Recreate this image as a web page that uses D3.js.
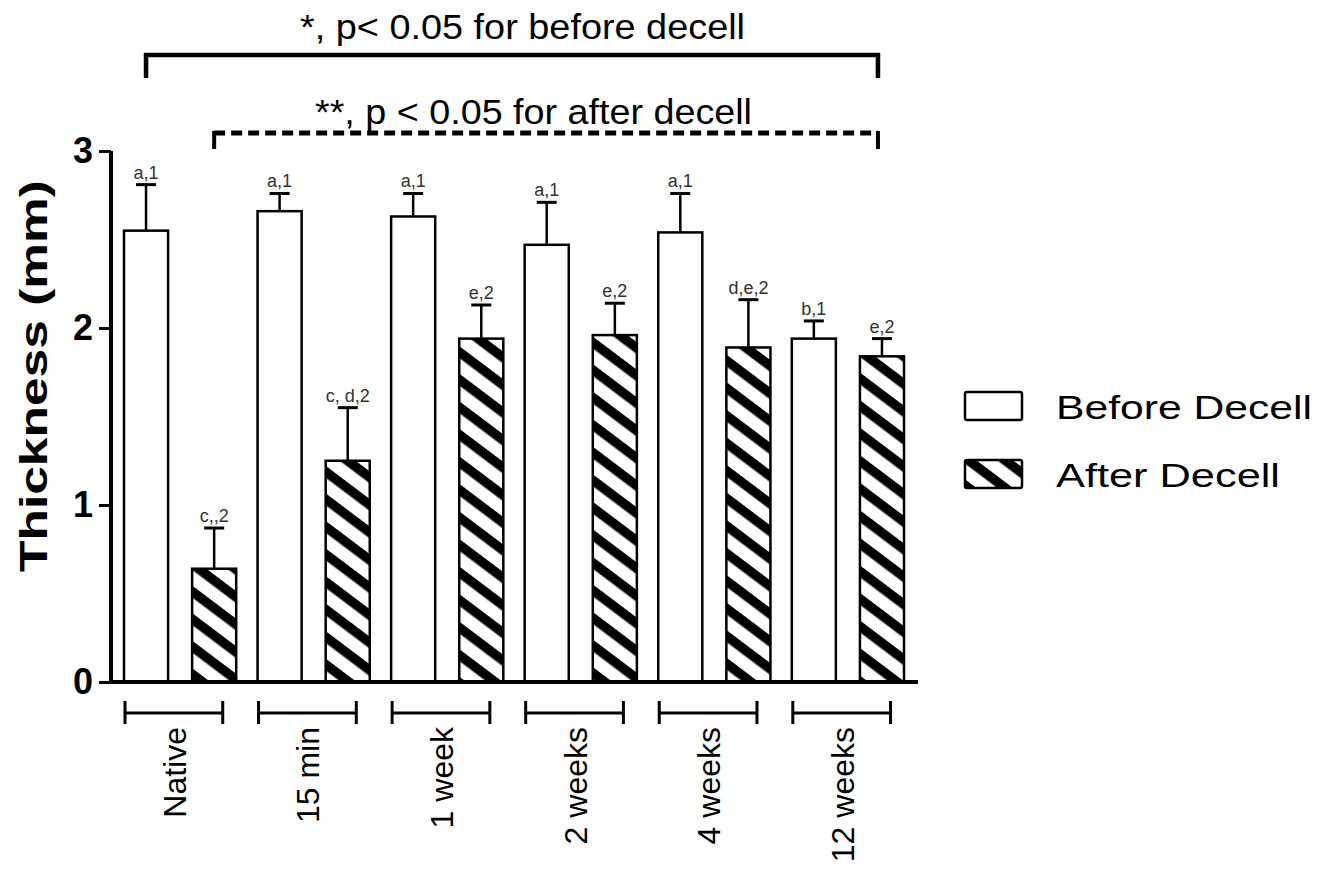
<!DOCTYPE html>
<html>
<head>
<meta charset="utf-8">
<script src="https://cdn.jsdelivr.net/npm/d3@7"></script>
<style>
  body { margin: 0; background: #fff; }
  svg { display: block; font-family: "Liberation Sans", Arial, sans-serif; }
</style>
</head>
<body>
<svg id="chart" width="1318" height="871"></svg>
<script>
var categories = ["Native", "15 min", "1 week", "2 weeks", "4 weeks", "12 weeks"];
var series = ["Before Decell", "After Decell"];
var before = [2.55, 2.66, 2.63, 2.47, 2.54, 1.94];
var beforeErr = [0.26, 0.10, 0.13, 0.24, 0.22, 0.10];
var after = [0.64, 1.25, 1.94, 1.96, 1.89, 1.84];
var afterErr = [0.23, 0.30, 0.19, 0.18, 0.27, 0.10];
var beforeLabels = ["a,1", "a,1", "a,1", "a,1", "a,1", "b,1"];
var afterLabels = ["c,,2", "c, d,2", "e,2", "e,2", "d,e,2", "e,2"];
var yTicks = [0, 1, 2, 3];

var svg = d3.select("#chart");
svg.append("rect").attr("width", 1318).attr("height", 871).attr("fill", "#fff");

// hatch pattern for after decell
var defs = svg.append("defs");
var pat = defs.append("pattern").attr("id", "hatch")
	.attr("patternUnits", "userSpaceOnUse")
	.attr("width", 22).attr("height", 22)
	.attr("patternTransform", "rotate(37)");
pat.append("rect").attr("width", 22).attr("height", 22).attr("fill", "#fff");
pat.append("rect").attr("width", 22).attr("height", 9.5).attr("fill", "#000");

var y = d3.scaleLinear().domain([0, 3]).range([682, 151]);
var x0 = d3.scaleBand().domain(categories).range([124, 904]).paddingInner(0.16).paddingOuter(0);
var x1 = d3.scaleBand().domain(series).range([0, x0.bandwidth()]).paddingInner(0.353);

var rows = categories.map(function(c, i) {
	return [
		{cat: c, s: series[0], v: before[i], e: beforeErr[i], lab: beforeLabels[i]},
		{cat: c, s: series[1], v: after[i], e: afterErr[i], lab: afterLabels[i]}
	];
});
var flat = [].concat.apply([], rows);

// bars
var bars = svg.append("g");
flat.forEach(function(d) {
	var bx = x0(d.cat) + x1(d.s);
	var cx = bx + x1.bandwidth() / 2;
	bars.append("line").attr("x1", cx).attr("x2", cx).attr("y1", y(d.v)).attr("y2", y(d.v + d.e))
		.attr("stroke", "#000").attr("stroke-width", 2.5);
	bars.append("line").attr("x1", cx - 10).attr("x2", cx + 10).attr("y1", y(d.v + d.e)).attr("y2", y(d.v + d.e))
		.attr("stroke", "#000").attr("stroke-width", 3);
	bars.append("rect").attr("x", bx).attr("y", y(d.v))
		.attr("width", x1.bandwidth()).attr("height", y(0) - y(d.v))
		.attr("fill", d.s == series[0] ? "#fff" : "url(#hatch)")
		.attr("stroke", "#000").attr("stroke-width", 2.5);
	bars.append("text").attr("x", cx).attr("y", y(d.v + d.e) - 6)
		.attr("text-anchor", "middle").attr("font-size", 18).attr("fill", "#333")
		.text(d.lab);
});

// y axis
var yAxis = svg.append("g").attr("transform", "translate(111,0)")
	.call(d3.axisLeft(y).tickValues(yTicks).tickFormat(d3.format("d")).tickSize(12).tickPadding(6));
yAxis.select(".domain").attr("stroke-width", 4).attr("d", "M0," + y(3) + "V" + y(0));
yAxis.selectAll(".tick line").attr("stroke-width", 3);
yAxis.selectAll(".tick text").attr("font-size", 36).attr("font-weight", "bold")
	.attr("font-family", "Liberation Sans, Arial, sans-serif").attr("fill", "#000");

// x axis baseline
svg.append("line").attr("x1", 109).attr("x2", 918).attr("y1", y(0)).attr("y2", y(0))
	.attr("stroke", "#000").attr("stroke-width", 4);

// group brackets and labels under the axis
categories.forEach(function(c) {
	var a = x0(c) + 1, b = x0(c) + x0.bandwidth() * 0.88;
	var g = svg.append("g").attr("stroke", "#000").attr("stroke-width", 3);
	g.append("line").attr("x1", a).attr("x2", b).attr("y1", 713).attr("y2", 713);
	g.append("line").attr("x1", a).attr("x2", a).attr("y1", 701).attr("y2", 724);
	g.append("line").attr("x1", b).attr("x2", b).attr("y1", 701).attr("y2", 724);
	svg.append("text").attr("transform", "translate(" + ((a + b) / 2 + 12) + ",727) rotate(-90)")
		.attr("text-anchor", "end").attr("font-size", 32).attr("fill", "#000").text(c);
});

// y title
svg.append("text").attr("transform", "translate(47,376) rotate(-90)")
	.attr("text-anchor", "middle").attr("font-size", 38).attr("font-weight", "bold")
	.attr("textLength", 392).attr("lengthAdjust", "spacingAndGlyphs")
	.text("Thickness (mm)");

// significance brackets
var xLeftSolid = x0(categories[0]) + x1(series[0]) + x1.bandwidth() / 2;
var xLeftDash = x0(categories[0]) + x1(series[1]) + x1.bandwidth() / 2;
var xRight = x0(categories[5]) + x1(series[1]) + x1.bandwidth() / 2 - 4;
svg.append("path").attr("d", "M" + xLeftSolid + ",78V55H" + xRight + "V78")
	.attr("fill", "none").attr("stroke", "#000").attr("stroke-width", 4.5);
svg.append("line").attr("x1", xLeftDash).attr("x2", xRight).attr("y1", 133).attr("y2", 133)
	.attr("stroke", "#000").attr("stroke-width", 5).attr("stroke-dasharray", "11,6");
svg.append("path").attr("d", "M" + xLeftDash + ",131V149M" + xRight + ",131V149")
	.attr("fill", "none").attr("stroke", "#000").attr("stroke-width", 4);
svg.append("text").attr("x", 300).attr("y", 39).attr("font-size", 35)
	.attr("textLength", 445).attr("lengthAdjust", "spacingAndGlyphs")
	.text("*, p< 0.05 for before decell");
svg.append("text").attr("x", 315).attr("y", 124).attr("font-size", 35)
	.attr("textLength", 437).attr("lengthAdjust", "spacingAndGlyphs")
	.text("**, p < 0.05 for after decell");

// legend
var legend = svg.append("g");
series.forEach(function(s, i) {
	var ly = 392 + i * 68;
	legend.append("rect").attr("x", 965).attr("y", ly).attr("width", 57).attr("height", 28).attr("rx", 2)
		.attr("fill", i == 0 ? "#fff" : "url(#hatch)").attr("stroke", "#000").attr("stroke-width", 2.5);
	legend.append("text").attr("x", 1056).attr("y", ly + 27).attr("font-size", 33)
		.attr("textLength", i == 0 ? 256 : 224).attr("lengthAdjust", "spacingAndGlyphs")
		.text(s);
});
</script>
</body>
</html>
